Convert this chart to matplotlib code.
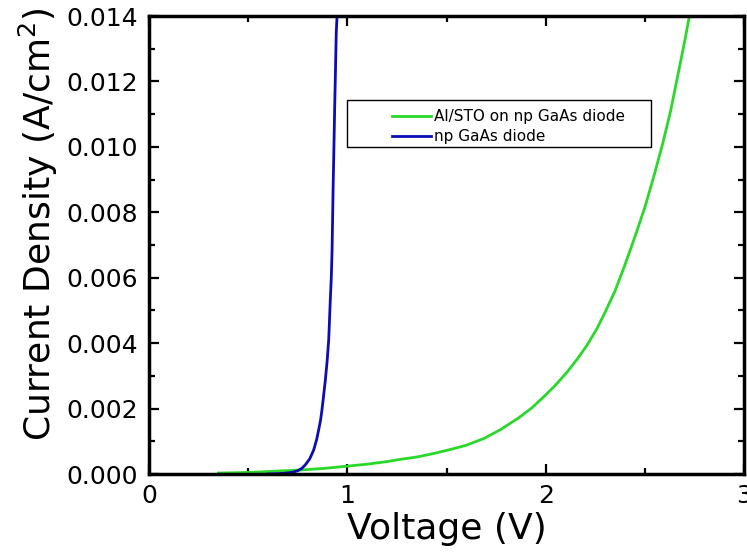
import matplotlib
matplotlib.use("Agg")
import matplotlib.pyplot as plt
from matplotlib.patches import Rectangle
from matplotlib.ticker import MultipleLocator, FormatStrFormatter

# ── Data ──────────────────────────────────────────────────────────────────────
sto_v = [0.35, 0.45, 0.55, 0.65, 0.76, 0.88, 1.00, 1.10, 1.20, 1.27, 1.35,
         1.43, 1.52, 1.60, 1.69, 1.77, 1.86, 1.93, 1.99, 2.05, 2.11, 2.16,
         2.21, 2.26, 2.30, 2.35, 2.40, 2.45, 2.50, 2.55, 2.59, 2.63, 2.66,
         2.68, 2.70, 2.72, 2.74]
sto_j = [0.00003, 0.00004, 0.00006, 0.00009, 0.00012, 0.00017, 0.00024,
         0.00030, 0.00038, 0.00045, 0.00052, 0.00062, 0.00075, 0.00088,
         0.00109, 0.00135, 0.00170, 0.00202, 0.00236, 0.00272, 0.00313,
         0.00352, 0.00395, 0.00446, 0.00495, 0.00560, 0.00640, 0.00725,
         0.00815, 0.00920, 0.01010, 0.01110, 0.01200, 0.01260, 0.01320,
         0.01385, 0.01450]

gaas_v = [0.60, 0.68, 0.72, 0.746, 0.77, 0.788, 0.81, 0.830, 0.845, 0.855,
          0.865, 0.872, 0.880, 0.889, 0.898, 0.906, 0.914, 0.919, 0.923,
          0.928, 0.932, 0.936, 0.940, 0.944, 0.948, 0.950]
gaas_j = [0.0, 0.00002, 0.00005, 0.00009, 0.00017, 0.00028, 0.00046,
          0.00073, 0.00105, 0.00134, 0.00165, 0.00196, 0.00238, 0.00287,
          0.00345, 0.00410, 0.00532, 0.00600, 0.00685, 0.00868, 0.00990,
          0.01119, 0.01230, 0.01348, 0.01400, 0.01450]

labels = ["Al/STO on np GaAs diode", "np GaAs diode"]
colors = ["#2ad82a", "#0c0cb4"]

# ── Figure ────────────────────────────────────────────────────────────────────
fig = plt.figure(figsize=(7.47, 5.54), dpi=100)
ax = fig.add_axes([0.1995, 0.1444, 0.7965, 0.8267])

l1, = ax.plot(sto_v, sto_j, color=colors[0], lw=2.0, label=labels[0])
l2, = ax.plot(gaas_v, gaas_j, color=colors[1], lw=2.0, label=labels[1])

ax.set_xlim(0, 3)
ax.set_ylim(0, 0.014)
ax.xaxis.set_major_locator(MultipleLocator(1))
ax.xaxis.set_minor_locator(MultipleLocator(0.5))
ax.yaxis.set_major_locator(MultipleLocator(0.002))
ax.yaxis.set_minor_locator(MultipleLocator(0.001))
ax.yaxis.set_major_formatter(FormatStrFormatter("%.3f"))

for s in ax.spines.values():
    s.set_linewidth(2.5)
ax.tick_params(which="both", direction="in", top=True, right=True, width=1.6)
ax.tick_params(which="major", length=7, labelsize=18)
ax.tick_params(which="minor", length=4)
ax.tick_params(axis="y", pad=8)
ax.tick_params(axis="x", pad=7)

ax.set_xlabel("Voltage (V)", fontsize=26)
ax.set_ylabel("Current Density (A/cm$^2$)", fontsize=26)
ax.xaxis.set_label_coords(0.5, -0.083)
ax.yaxis.set_label_coords(-0.15, 0.545)

# legend: frameless legend inside a drawn box (box has a wide left margin)
ax.add_patch(Rectangle((0.333, 0.714), 0.511, 0.103, transform=ax.transAxes,
                       fill=False, edgecolor="black", lw=1.0, zorder=5))
ax.legend(handles=[l1, l2], loc="upper left", bbox_to_anchor=(0.40, 0.806),
          frameon=False, fontsize=11, handlelength=2.6, handletextpad=0.15,
          labelspacing=0.3, borderpad=0.3, borderaxespad=0)

fig.savefig("out.png", dpi=100)
